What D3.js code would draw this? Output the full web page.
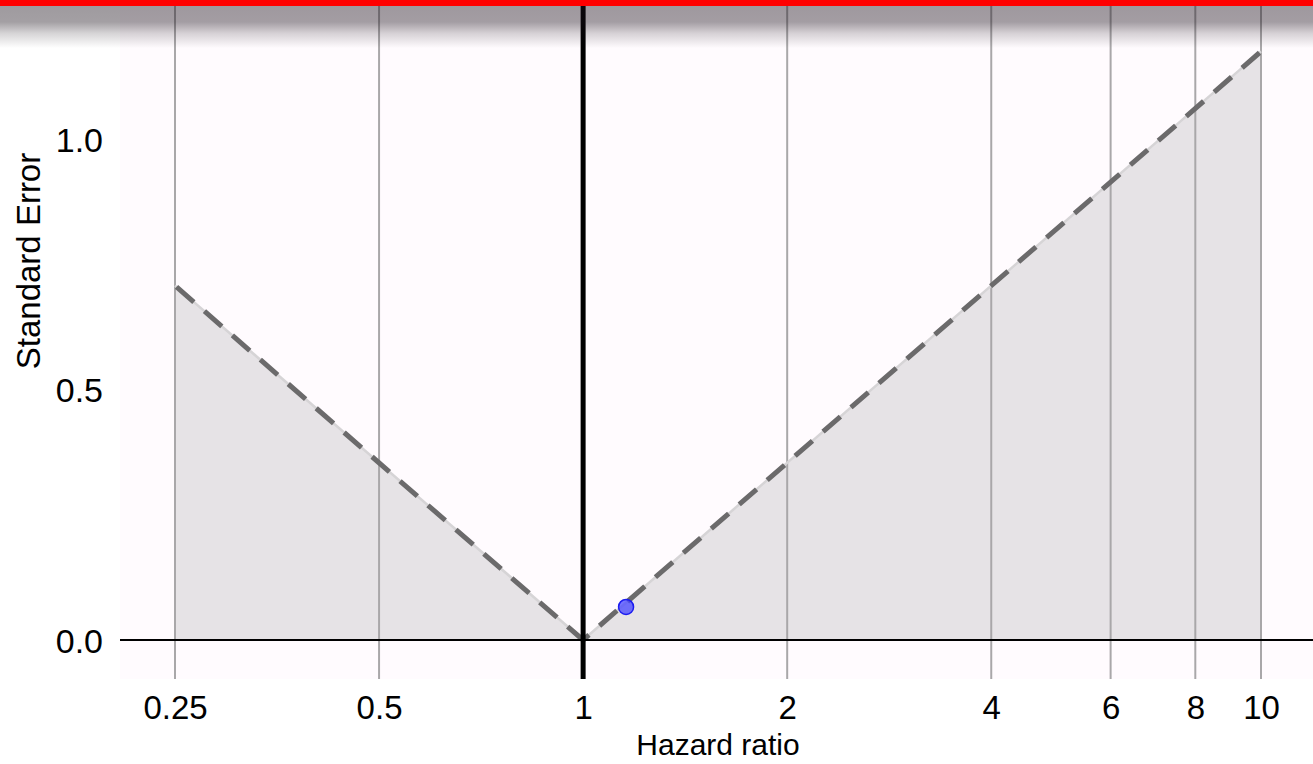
<!DOCTYPE html>
<html><head><meta charset="utf-8">
<script src="https://cdn.jsdelivr.net/npm/d3@7/dist/d3.min.js"></script>
<style>
html,body{margin:0;padding:0;background:#fff;}
svg{display:block;font-family:"Liberation Sans",Arial,Helvetica,sans-serif;}
</style></head>
<body>
<svg id="chart" width="1313" height="764"></svg>
<script>
// Data
const xTicks = [0.25, 0.5, 1, 2, 4, 6, 8, 10];
const xTickLabels = ["0.25", "0.5", "1", "2", "4", "6", "8", "10"];
const yTicks = [0, 0.5, 1.0];
const yTickLabels = ["0.0", "0.5", "1.0"];
const studyHR = [1.157];
const studySE = [0.066];
const funnelLeftHR = [0.25, 1];
const funnelRightHR = [1, 10];
const z = 1.96;

const svg = d3.select("#chart");
const W = 1313, H = 764;
const panel = {left: 120, right: 1313, top: 0, bottom: 679};

const x = d3.scaleLog().domain([0.25, 10]).range([175, 1261]);
const y = d3.scaleLinear().domain([0, 1]).range([640, 139]);
const se = hr => Math.abs(Math.log(hr)) / z;

// panel background
svg.append("rect").attr("x", panel.left).attr("y", panel.top)
  .attr("width", panel.right - panel.left).attr("height", panel.bottom - panel.top)
  .attr("fill", "#fffbfe");

// funnel fill
const fillPts = [[0.25, 0], [0.25, se(0.25)], [1, 0], [10, se(10)], [10, 0]];
svg.append("path")
  .attr("d", d3.line().x(d => x(d[0])).y(d => y(d[1]))(fillPts) + "Z")
  .attr("fill", "#e6e3e6");

// vertical gridlines
svg.append("g").selectAll("line").data(xTicks.filter(d => d !== 1)).join("line")
  .attr("x1", d => x(d)).attr("x2", d => x(d))
  .attr("y1", panel.top).attr("y2", panel.bottom)
  .attr("stroke", "#a9a7a9").attr("stroke-width", 2);

// funnel lines
const fl = d3.line().x(d => x(d)).y(d => y(se(d)));
[funnelLeftHR, funnelRightHR].forEach(arr => {
  svg.append("path").attr("d", fl(arr)).attr("fill", "none")
    .attr("stroke", "#d6d4d6").attr("stroke-width", 2.5);
});
// dashed lines drawn from the top end toward 1
[[0.25, 1], [10, 1]].forEach(arr => {
  svg.append("path").attr("d", fl(arr)).attr("fill", "none")
    .attr("stroke", "#6b6a6b").attr("stroke-width", 5)
    .attr("stroke-dasharray", "23,14").attr("stroke-dashoffset", -2);
});

// zero line
svg.append("line").attr("x1", panel.left).attr("x2", panel.right)
  .attr("y1", y(0)).attr("y2", y(0)).attr("stroke", "#000").attr("stroke-width", 2);

// null line at HR=1
svg.append("line").attr("x1", x(1)).attr("x2", x(1))
  .attr("y1", panel.top).attr("y2", panel.bottom)
  .attr("stroke", "#000").attr("stroke-width", 5);

// study point
svg.append("g").selectAll("circle").data(studyHR.map((d, i) => [d, studySE[i]])).join("circle")
  .attr("cx", d => x(d[0])).attr("cy", d => y(d[1])).attr("r", 7.5)
  .attr("fill", "rgba(70,70,255,0.75)").attr("stroke", "#1c1cf0").attr("stroke-width", 1.5);

// top gradient overlay
const defs = svg.append("defs");
const grad = defs.append("linearGradient").attr("id", "topfade")
  .attr("x1", 0).attr("y1", 0).attr("x2", 0).attr("y2", 1);
grad.append("stop").attr("offset", "0").attr("stop-color", "#1a101a").attr("stop-opacity", 0.42);
grad.append("stop").attr("offset", "0.38").attr("stop-color", "#1a101a").attr("stop-opacity", 0.40);
grad.append("stop").attr("offset", "0.65").attr("stop-color", "#1a101a").attr("stop-opacity", 0.18);
grad.append("stop").attr("offset", "1").attr("stop-color", "#1a101a").attr("stop-opacity", 0);
svg.append("rect").attr("x", 0).attr("y", 6).attr("width", W).attr("height", 42)
  .attr("fill", "url(#topfade)");
svg.append("rect").attr("x", 0).attr("y", 0).attr("width", W).attr("height", 6)
  .attr("fill", "#ff0000");

// x axis tick labels
const xAxis = d3.axisBottom(x).tickValues(xTicks)
  .tickFormat((d, i) => xTickLabels[i]).tickSize(0).tickPadding(0);
const gx = svg.append("g").attr("transform", `translate(0,${panel.bottom})`).call(xAxis);
gx.select(".domain").remove();
gx.selectAll("text").attr("font-size", 33).attr("fill", "#000")
  .attr("font-family", "'Liberation Sans',Arial,sans-serif")
  .attr("y", 40).attr("dy", 0);

// y axis tick labels
const yAxis = d3.axisLeft(y).tickValues(yTicks)
  .tickFormat((d, i) => yTickLabels[i]).tickSize(0).tickPadding(0);
const gy = svg.append("g").attr("transform", `translate(103,0)`).call(yAxis);
gy.select(".domain").remove();
gy.selectAll("text").attr("font-size", 34).attr("fill", "#000")
  .attr("font-family", "'Liberation Sans',Arial,sans-serif")
  .attr("x", 0).attr("dy", "0.36em");

// axis titles
svg.append("text").attr("x", 718).attr("y", 755).attr("text-anchor", "middle")
  .attr("font-size", 30).attr("fill", "#000").text("Hazard ratio");
svg.append("text").attr("transform", "translate(40,261) rotate(-90)")
  .attr("text-anchor", "middle").attr("font-size", 33).attr("fill", "#000").text("Standard Error");
</script>
</body></html>
